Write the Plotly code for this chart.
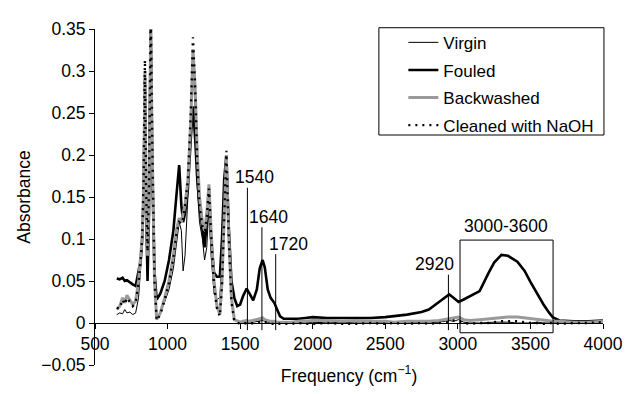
import plotly.graph_objects as go

# ---------------- data ----------------
wavenumber = [650, 670, 690, 705, 720, 740, 760, 780, 800, 815, 825, 835, 844, 852, 862, 872, 884, 895, 910, 925,
              950, 980, 1010, 1040, 1060, 1080, 1095, 1107, 1120, 1140, 1160, 1175, 1190, 1205, 1220, 1240, 1255, 1270,
              1285, 1300, 1320, 1340, 1360, 1375, 1390, 1405, 1420, 1440, 1460, 1480, 1500,
              1520, 1545, 1565, 1590, 1615, 1635, 1655, 1670, 1690, 1710, 1735, 1755, 1775, 1800,
              1850, 1900, 1950, 2000, 2100, 2200, 2300, 2400, 2500, 2560, 2650, 2750, 2800, 2870, 2940, 2970, 3005,
              3040, 3080, 3150, 3210, 3250, 3300, 3345, 3410, 3460, 3500, 3550, 3590, 3630, 3655, 3700, 3800, 3900, 4000]

virgin = [0.01, 0.012, 0.011, 0.016, 0.012, 0.013, 0.01, 0.012, 0.03, 0.06, 0.09, 0.14, 0.30, 0.13, 0.07, 0.12, 0.34, 0.15, 0.04, 0.006,
          0.012, 0.025, 0.04, 0.065, 0.095, 0.12, 0.11, 0.062, 0.08, 0.15, 0.25, 0.31, 0.25, 0.16, 0.12, 0.1, 0.075, 0.09,
          0.14, 0.08, 0.035, 0.028, 0.03, 0.08, 0.16, 0.195, 0.1, 0.03, 0.005, 0.001, 0.0,
          0.0, 0.001, 0.0, 0.001, 0.002, 0.003, 0.003, 0.002, 0.001, 0.0, 0.0, 0.001, 0.0, 0.0,
          0.0, 0.001, 0.0, 0.001, 0.0, 0.001, 0.0, 0.0, 0.001, 0.0, 0.0, 0.001, 0.0, 0.001, 0.003, 0.002, 0.004,
          0.001, 0.0, 0.0, 0.001, 0.001, 0.001, 0.001, 0.0, 0.0, 0.0, 0.001, 0.0, 0.0, 0.001, 0.0, 0.001, 0.0, 0.002]

fouled = [0.053, 0.052, 0.054, 0.05, 0.051, 0.048, 0.046, 0.044, 0.06, 0.075, 0.1, 0.15, 0.29, 0.14, 0.05, 0.13, 0.35, 0.18, 0.06, 0.028,
          0.035, 0.05, 0.075, 0.11, 0.15, 0.188, 0.14, 0.12, 0.13, 0.16, 0.22, 0.258, 0.22, 0.17, 0.14, 0.115, 0.09, 0.12,
          0.16, 0.1, 0.06, 0.055, 0.055, 0.1, 0.17, 0.2, 0.12, 0.05, 0.03, 0.02, 0.022,
          0.032, 0.041, 0.035, 0.027, 0.04, 0.065, 0.075, 0.066, 0.04, 0.03, 0.024, 0.015, 0.008, 0.005,
          0.005, 0.005, 0.006, 0.007, 0.006, 0.006, 0.006, 0.006, 0.007, 0.008, 0.01, 0.013, 0.016, 0.025, 0.034, 0.03, 0.025,
          0.028, 0.032, 0.038, 0.059, 0.072, 0.081, 0.08, 0.073, 0.062, 0.049, 0.034, 0.022, 0.012, 0.0066, 0.003, 0.002, 0.002, 0.003]

backwashed = [0.016, 0.02, 0.03, 0.024, 0.033, 0.027, 0.022, 0.026, 0.05, 0.08, 0.1, 0.16, 0.30, 0.15, 0.08, 0.15, 0.355, 0.2, 0.05, 0.004,
              0.012, 0.03, 0.05, 0.08, 0.11, 0.125, 0.12, 0.13, 0.14, 0.17, 0.24, 0.326, 0.28, 0.2, 0.15, 0.12, 0.11, 0.13,
              0.165, 0.11, 0.05, 0.02, 0.01, 0.05, 0.14, 0.2, 0.11, 0.03, 0.004, 0.002, 0.001,
              0.002, 0.003, 0.002, 0.003, 0.004, 0.005, 0.006, 0.004, 0.003, 0.002, 0.002, 0.001, 0.001, 0.001,
              0.001, 0.002, 0.002, 0.003, 0.003, 0.002, 0.003, 0.002, 0.002, 0.001, 0.002, 0.002, 0.002, 0.003, 0.005, 0.006, 0.007,
              0.004, 0.003, 0.004, 0.005, 0.006, 0.007, 0.007, 0.007, 0.006, 0.005, 0.004, 0.003, 0.002, 0.002, 0.002, 0.001, 0.001, 0.002]

cleaned = [0.018, 0.017, 0.028, 0.022, 0.03, 0.025, 0.02, 0.024, 0.048, 0.075, 0.1, 0.17, 0.313, 0.16, 0.085, 0.16, 0.372, 0.21, 0.05, 0.003,
           0.01, 0.028, 0.048, 0.078, 0.105, 0.12, 0.118, 0.125, 0.14, 0.17, 0.25, 0.34, 0.28, 0.19, 0.14, 0.115, 0.105, 0.125,
           0.16, 0.105, 0.045, 0.018, 0.008, 0.045, 0.14, 0.205, 0.11, 0.025, 0.002, 0.0, -0.001,
           -0.001, 0.0, -0.001, 0.0, 0.001, 0.002, 0.002, 0.001, 0.0, -0.001, -0.001, 0.0, -0.001, -0.001,
           -0.001, 0.0, -0.001, -0.001, 0.0, -0.001, -0.001, 0.0, -0.001, 0.0, -0.001, 0.0, -0.001, 0.0, 0.001, 0.003, 0.002,
           0.0, -0.001, 0.0, 0.0, 0.001, 0.002, 0.002, 0.002, 0.001, 0.0, 0.0, -0.001, 0.0, 0.0, -0.001, 0.0, 0.0, 0.001]

series_names = ["Virgin", "Fouled", "Backwashed", "Cleaned with NaOH"]

x_ticks = [500, 1000, 1500, 2000, 2500, 3000, 3500, 4000]
y_ticks = [-0.05, 0, 0.05, 0.1, 0.15, 0.2, 0.25, 0.3, 0.35]
y_tick_labels = ["\u22120.05", "0", "0.05", "0.1", "0.15", "0.2", "0.25", "0.3", "0.35"]

# band markers: label, marker position, marker top, label x, label y
band_labels = ["1540", "1640", "1720", "2920"]
band_pos = [1550, 1650, 1745, 2935]
band_top = [0.161, 0.114, 0.082, 0.0575]
band_label_x = [1599, 1693, 1835, 2840]
band_label_y = [0.174, 0.1266, 0.0937, 0.0705]
band_bottom = -0.0085

region_label = "3000-3600"
region_x = [3015, 3656]
region_y = [-0.0116, 0.0987]
region_label_pos = [3332, 0.115]

# ---------------- figure ----------------
FONT = "Liberation Sans, Arial, Helvetica, sans-serif"
styles = [
    dict(color="black", width=1),
    dict(color="black", width=2.6),
    dict(color="#9a9a9a", width=3),
    dict(color="black", width=2.4, dash="2px,5px"),
]

fig = go.Figure()
for name, ys, st in zip(series_names, [virgin, fouled, backwashed, cleaned], styles):
    fig.add_trace(go.Scatter(x=wavenumber, y=ys, mode="lines", name=name, line=st,
                             legendgroup=name))

for lab, xp, top, lx, ly in zip(band_labels, band_pos, band_top, band_label_x, band_label_y):
    fig.add_shape(type="line", xref="x", yref="y", x0=xp, x1=xp, y0=band_bottom, y1=top,
                  line=dict(color="black", width=1))
    fig.add_annotation(x=lx, y=ly, xref="x", yref="y", text=lab, showarrow=False,
                       font=dict(size=17.5, color="black", family=FONT))

fig.add_shape(type="rect", xref="x", yref="y", x0=region_x[0], x1=region_x[1],
              y0=region_y[0], y1=region_y[1], line=dict(color="black", width=1))
fig.add_annotation(x=region_label_pos[0], y=region_label_pos[1], xref="x", yref="y",
                   text=region_label, showarrow=False,
                   font=dict(size=17.5, color="black", family=FONT))

# frame around the legend
fig.add_shape(type="rect", xref="paper", yref="paper", x0=0.5588, x1=1.0019, y0=0.6845, y1=1.0038,
              line=dict(color="black", width=1), fillcolor="white", layer="above")

fig.update_layout(
    width=635, height=394, autosize=False,
    margin=dict(l=95, r=21, t=29, b=20),
    paper_bgcolor="white", plot_bgcolor="white",
    font=dict(family=FONT, size=17.5, color="black"),
    showlegend=True,
    legend=dict(x=0.607, y=1.0125, xanchor="left", yanchor="top",
                bgcolor="rgba(0,0,0,0)", borderwidth=0,
                font=dict(size=17, family=FONT, color="black"),
                tracegroupgap=2.5),
    xaxis=dict(range=[500, 4000], tickvals=x_ticks, ticktext=[str(v) for v in x_ticks],
               showline=True, linecolor="black", linewidth=1,
               ticks="outside", ticklen=5, tickcolor="black",
               showgrid=False, zeroline=False, anchor="free", position=0.125,
               title=dict(text="Frequency (cm<sup>\u22121</sup>)", standoff=16,
                          font=dict(size=17.5, family=FONT))),
    yaxis=dict(range=[-0.05, 0.35], tickvals=y_ticks, ticktext=y_tick_labels,
               showline=True, linecolor="black", linewidth=1,
               ticks="outside", ticklen=5, tickcolor="black",
               showgrid=False, zeroline=False,
               title=dict(text="Absorbance", standoff=6, font=dict(size=17.5, family=FONT))),
)

fig.write_html("out.html")
